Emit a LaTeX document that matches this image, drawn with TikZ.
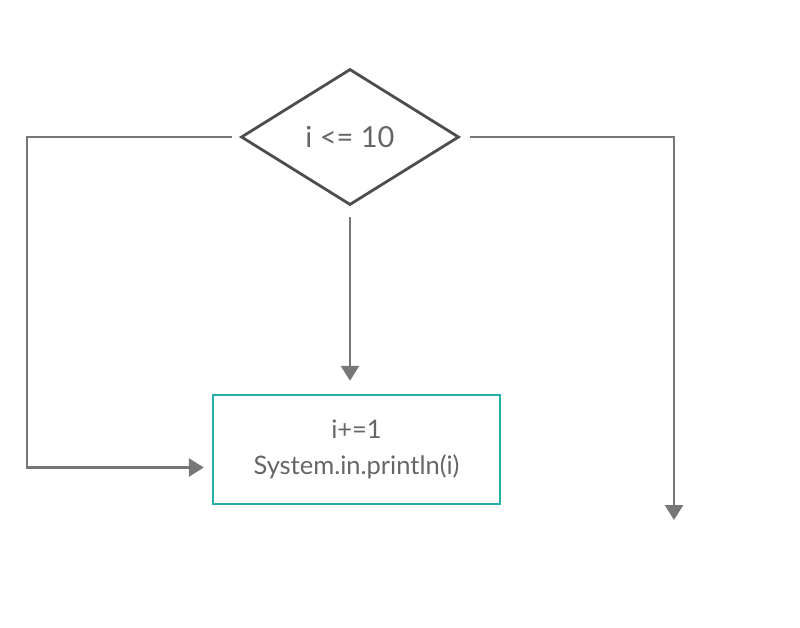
\documentclass[tikz,border=0pt]{standalone}
\usepackage{fontspec}
\setmainfont{Lato}
\usetikzlibrary{arrows.meta, shapes.geometric}
\definecolor{edgegray}{HTML}{777777}
\definecolor{linegray}{HTML}{4D4D4D}
\definecolor{textgray}{HTML}{666666}
\definecolor{boxteal}{HTML}{22B0A8}

\begin{document}
\begin{tikzpicture}[x=1pt, y=-1pt,
  flow/.style={line width=2.8pt, draw=edgegray, -{Triangle[width=18pt,length=15pt]}}]
\useasboundingbox (0,0) rectangle (800,627);
\node[diamond, draw=linegray, line width=2.8pt, minimum width=218pt, minimum height=136pt, inner sep=0pt, aspect=1.6, text=textgray, font=\fontsize{29}{34}\selectfont] (cond) at (350,137) {i <= 10};
\node[rectangle, draw=boxteal, line width=2.4pt, minimum width=287pt, minimum height=109pt, inner sep=0pt, text=textgray, align=center, font=\fontsize{25.5}{36}\selectfont] (body) at (356.5,449.5) {i+=1\\System.in.println(i)};
\coordinate (lcorner) at (27,137);
\coordinate (rcorner) at (674,137);
\coordinate (rend) at (674,520);
\draw[flow, shorten <=8pt, shorten >=8pt] (cond.west) -- (lcorner) |- ([yshift=-18pt]body.west);
\draw[flow, shorten <=11pt, shorten >=13pt] (cond.south) -- (cond.south |- body.north);
\draw[flow, shorten <=10pt] (cond.east) -- (rcorner) -- (rend);
\end{tikzpicture}
\end{document}
